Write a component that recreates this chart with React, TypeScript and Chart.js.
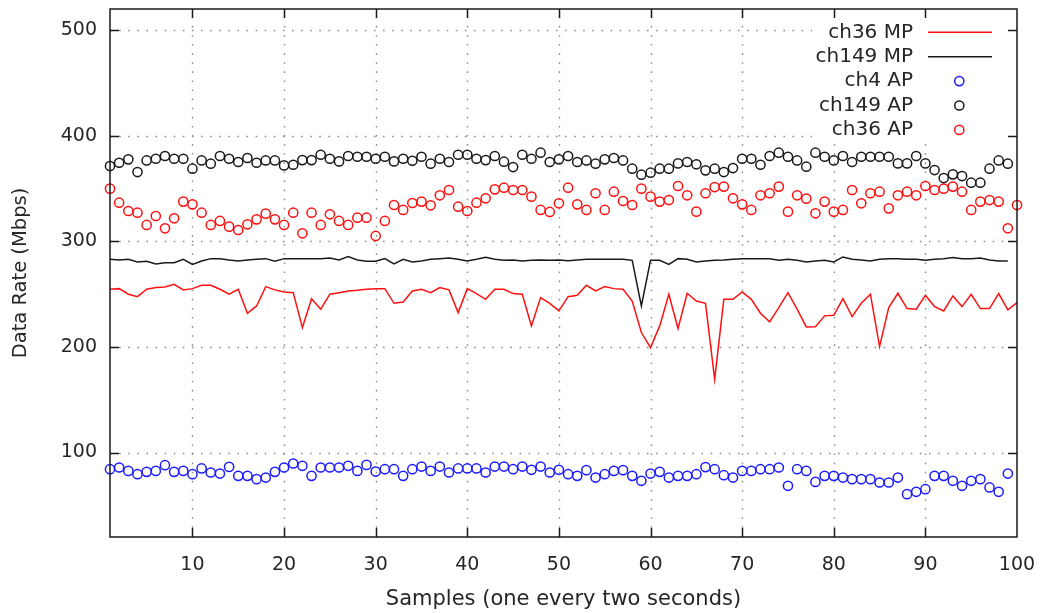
import React, { useEffect, useRef } from 'react';
import { Chart, registerables } from 'chart.js';

Chart.register(...registerables);

// ---- data (sample index starts at 1) ----
const X_TICKS = [10, 20, 30, 40, 50, 60, 70, 80, 90, 100];
const Y_TICKS = [100, 200, 300, 400, 500];

const ch36MP = [
  254.6, 255.2, 249.9, 247.6, 254.6, 256.2, 256.8, 259.3, 254.0, 255.2,
  258.4, 258.4, 254.6, 249.9, 254.6, 231.9, 238.8, 257.1, 254.0, 252.1,
  251.4, 218.3, 245.7, 235.7, 249.9, 251.4, 253.0, 253.6, 254.6, 255.2,
  255.2, 241.3, 242.6, 253.0, 254.6, 251.4, 256.2, 254.0, 232.5, 255.2,
  250.5, 245.1, 254.6, 254.6, 250.5, 249.9, 219.9, 246.7, 241.3, 234.1,
  247.6, 248.9, 258.4, 253.0, 257.1, 255.2, 254.6, 243.5, 213.6, 199.4,
  219.9, 249.9, 217.4, 250.8, 243.5, 241.3, 169.4, 245.1, 245.1, 252.1,
  245.1, 231.9, 223.7, 237.2, 251.4, 235.7, 218.9, 219.2, 229.4, 230.0,
  245.7, 228.7, 241.3, 249.9, 200.3, 237.2, 250.8, 236.3, 235.7, 248.9,
  238.2, 234.1, 248.3, 238.2, 249.9, 236.3, 236.3, 250.5, 235.0, 241.9,
];

const ch149MP = [
  283.0, 282.4, 283.0, 280.5, 281.1, 278.6, 279.8, 279.8, 283.0, 278.2,
  281.4, 283.6, 283.6, 282.4, 281.4, 282.4, 283.0, 283.6, 281.1, 283.6,
  283.6, 283.6, 283.6, 283.6, 284.2, 282.4, 285.5, 282.4, 281.1, 281.1,
  283.6, 278.6, 283.0, 280.5, 281.4, 283.0, 283.6, 284.2, 283.0, 281.4,
  283.0, 284.9, 283.0, 282.0, 282.4, 281.4, 282.0, 282.4, 282.0, 282.4,
  281.7, 282.4, 283.0, 283.0, 283.0, 283.0, 283.0, 282.0, 238.8, 282.0,
  282.0, 278.2, 283.6, 283.0, 280.5, 281.4, 282.0, 282.4, 283.0, 283.6,
  283.6, 283.6, 283.6, 282.0, 283.0, 282.0, 280.5, 281.4, 282.0, 280.5,
  285.2, 283.0, 282.4, 281.4, 283.0, 283.6, 283.6, 283.0, 283.0, 282.0,
  283.0, 283.6, 284.6, 283.6, 283.6, 284.2, 282.4, 281.4, 281.4,
];

const ch4AP = [
  84.2, 85.8, 82.6, 79.5, 81.7, 82.6, 88.0, 81.7, 82.6, 79.5,
  84.9, 81.1, 80.1, 86.4, 77.9, 77.9, 74.8, 76.3, 81.7, 85.8,
  89.6, 87.4, 77.9, 85.8, 85.8, 85.8, 87.4, 82.6, 88.3, 82.0,
  84.2, 84.2, 77.9, 84.2, 86.7, 82.6, 86.7, 81.1, 84.9, 84.9,
  84.9, 81.1, 86.7, 86.7, 84.2, 86.7, 83.6, 86.7, 81.1, 83.6,
  79.5, 77.9, 83.3, 76.3, 79.5, 82.6, 83.3, 77.9, 73.2, 80.1,
  81.7, 76.3, 77.9, 77.9, 79.5, 86.2, 84.2, 78.5, 76.3, 82.6,
  82.6, 84.2, 84.2, 85.8, 68.5, 84.2, 82.6, 72.2, 77.9, 77.9,
  76.3, 74.8, 74.8, 74.8, 71.6, 71.6, 76.3, 60.6, 62.8, 65.3,
  77.9, 77.9, 73.2, 68.5, 73.2, 74.8, 66.9, 62.8, 80.1,
];

const ch149AP = [
  371.3, 374.4, 377.6, 365.6, 376.6, 378.2, 380.8, 378.2, 378.2, 368.8,
  376.6, 373.5, 380.8, 378.2, 375.1, 378.9, 374.4, 376.6, 376.6, 371.9,
  372.5, 376.9, 376.9, 382.0, 378.2, 375.7, 380.8, 380.1, 380.1, 378.2,
  380.1, 375.7, 378.2, 376.3, 380.1, 373.5, 378.2, 375.1, 382.0, 382.0,
  378.2, 376.9, 380.8, 375.4, 370.3, 382.0, 378.2, 383.9, 375.1, 377.6,
  380.8, 375.1, 376.6, 373.5, 377.6, 378.9, 376.6, 368.8, 363.1, 365.0,
  368.8, 368.8, 373.8, 375.1, 372.9, 367.2, 368.8, 365.6, 369.4, 378.2,
  378.2, 372.5, 380.8, 383.9, 380.1, 376.6, 370.7, 383.9, 380.1, 376.6,
  380.8, 375.1, 380.1, 380.1, 380.1, 380.1, 373.8, 373.8, 380.8, 373.8,
  367.5, 359.9, 363.4, 361.8, 355.5, 355.5, 368.8, 376.6, 373.5,
];

const ch36AP = [
  349.9, 336.6, 328.7, 327.1, 315.5, 324.0, 312.3, 321.8, 337.6, 335.0,
  327.1, 315.5, 319.3, 313.9, 310.7, 316.1, 320.8, 326.2, 320.8, 315.5,
  327.1, 307.6, 327.1, 315.5, 325.6, 319.3, 315.5, 322.4, 322.4, 305.1,
  319.3, 334.4, 329.7, 336.3, 337.6, 334.1, 343.6, 348.6, 332.8, 328.7,
  336.6, 340.7, 349.2, 350.8, 348.6, 348.6, 342.3, 329.7, 327.8, 336.0,
  350.8, 335.0, 329.7, 345.5, 329.7, 347.0, 338.2, 334.4, 349.9, 342.3,
  337.6, 339.1, 352.4, 343.6, 328.1, 345.5, 351.4, 351.8, 340.7, 335.0,
  329.7, 343.6, 345.5, 351.8, 328.1, 343.6, 340.4, 326.5, 337.6, 328.1,
  329.7, 348.6, 336.0, 345.5, 347.0, 331.2, 343.6, 347.0, 343.6, 352.4,
  348.6, 349.9, 351.8, 347.0, 329.7, 337.6, 339.1, 337.6, 312.3, 334.4,
];

const SERIES_LABELS = ['ch36 MP', 'ch149 MP', 'ch4 AP', 'ch149 AP', 'ch36 AP'];

const RED = '#ff1010';
const BLACK = '#1a1a1a';
const BLUE = '#1c1cff';
const TEXT = '#262626';
const FONT = 'DejaVu Sans';

const toXY = (arr: number[]) => arr.map((v, i) => ({ x: i + 1, y: v }));

const drawGrid = (chart: any) => {
  const { ctx, chartArea: a, scales } = chart;
  const xs = scales.x;
  const ys = scales.y;
  if (!a || !xs || !ys) return;
  ctx.save();
  ctx.strokeStyle = '#8c8c8c';
  ctx.lineWidth = 1.4;
  ctx.setLineDash([1.6, 7.5]);
  for (const v of X_TICKS) {
    if (v >= 100) continue;
    const px = Math.round(xs.getPixelForValue(v)) + 0.5;
    ctx.beginPath();
    ctx.moveTo(px, a.bottom);
    ctx.lineTo(px, a.top);
    ctx.stroke();
  }
  for (const v of Y_TICKS) {
    const py = Math.round(ys.getPixelForValue(v)) + 0.5;
    ctx.beginPath();
    ctx.moveTo(a.left, py);
    ctx.lineTo(a.right, py);
    ctx.stroke();
  }
  ctx.setLineDash([]);
  // opaque key area
  ctx.fillStyle = '#ffffff';
  ctx.fillRect(a.right - 205, a.top, 205, 134);
  ctx.restore();
};

const gnuplotFrame = {
  id: 'gnuplotFrame',
  beforeDatasetsDraw(chart: any) {
    drawGrid(chart);
  },
  afterDatasetsDraw(chart: any) {
    const { ctx, chartArea: a, scales } = chart;
    const xs = scales.x;
    const ys = scales.y;
    ctx.save();
    ctx.strokeStyle = BLACK;
    ctx.lineWidth = 1.5;
    ctx.strokeRect(a.left, a.top, a.right - a.left, a.bottom - a.top);
    const tl = 9;
    ctx.beginPath();
    for (const v of X_TICKS) {
      if (v >= 100) continue;
      const px = Math.round(xs.getPixelForValue(v)) + 0.5;
      ctx.moveTo(px, a.bottom);
      ctx.lineTo(px, a.bottom - tl);
      ctx.moveTo(px, a.top);
      ctx.lineTo(px, a.top + tl);
    }
    for (const v of Y_TICKS) {
      const py = Math.round(ys.getPixelForValue(v)) + 0.5;
      ctx.moveTo(a.left, py);
      ctx.lineTo(a.left + tl, py);
      ctx.moveTo(a.right, py);
      ctx.lineTo(a.right - tl, py);
    }
    ctx.stroke();

    // key
    const styles = [
      { color: RED, line: true },
      { color: BLACK, line: true },
      { color: BLUE, line: false },
      { color: BLACK, line: false },
      { color: RED, line: false },
    ];
    ctx.font = `20px "${FONT}"`;
    ctx.textAlign = 'right';
    ctx.textBaseline = 'middle';
    SERIES_LABELS.forEach((label, i) => {
      const yy = a.top + 23.3 + i * 24.4;
      ctx.fillStyle = TEXT;
      ctx.fillText(label, a.right - 104, yy);
      const s = styles[i];
      ctx.strokeStyle = s.color;
      ctx.lineWidth = 1.5;
      ctx.beginPath();
      if (s.line) {
        ctx.moveTo(a.right - 89, yy);
        ctx.lineTo(a.right - 25, yy);
      } else {
        ctx.arc(a.right - 57.7, yy, 4.6, 0, Math.PI * 2);
      }
      ctx.stroke();
    });
    ctx.restore();
  },
};

const noPad = (s: any) => {
  s.paddingTop = 0;
  s.paddingBottom = 0;
  s.paddingLeft = 0;
  s.paddingRight = 0;
};

export default function App() {
  const ref = useRef<HTMLCanvasElement | null>(null);

  useEffect(() => {
    if (!ref.current) return;
    const pointDs = (label: string, data: number[], color: string) => ({
      label,
      data: toXY(data),
      showLine: false,
      borderColor: color,
      backgroundColor: 'rgba(0,0,0,0)',
      pointRadius: 4.6,
      pointBorderWidth: 1.5,
      pointBorderColor: color,
      pointBackgroundColor: 'rgba(0,0,0,0)',
      clip: false as any,
    });
    const lineDs = (label: string, data: number[], color: string) => ({
      label,
      data: toXY(data),
      borderColor: color,
      backgroundColor: color,
      borderWidth: 1.5,
      pointRadius: 0,
      tension: 0,
      fill: false,
      clip: false as any,
    });
    const chart = new Chart(ref.current, {
      type: 'line',
      data: {
        datasets: [
          lineDs(SERIES_LABELS[0], ch36MP, RED),
          lineDs(SERIES_LABELS[1], ch149MP, BLACK),
          pointDs(SERIES_LABELS[2], ch4AP, BLUE),
          pointDs(SERIES_LABELS[3], ch149AP, BLACK),
          pointDs(SERIES_LABELS[4], ch36AP, RED),
        ] as any,
      },
      options: {
        responsive: false,
        animation: false,
        events: [],
        layout: { padding: { left: 0, right: 26, top: 9, bottom: 0 } },
        plugins: {
          legend: { display: false },
          tooltip: { enabled: false },
        },
        scales: {
          x: {
            type: 'linear',
            min: 1,
            max: 100,
            afterBuildTicks: (s: any) => {
              s.ticks = X_TICKS.map((v) => ({ value: v }));
            },
            afterFit: (s: any) => {
              s.height = 76;
              noPad(s);
            },
            grid: { display: false, drawTicks: false },
            border: { display: false },
            ticks: {
              autoSkip: false,
              maxRotation: 0,
              padding: 17,
              color: TEXT,
              font: { family: FONT, size: 19 },
            },
            title: {
              display: true,
              text: 'Samples (one every two seconds)',
              color: TEXT,
              font: { family: FONT, size: 21 },
              padding: { top: 0, bottom: 1 },
            },
          },
          y: {
            type: 'linear',
            min: 20,
            max: 520,
            afterBuildTicks: (s: any) => {
              s.ticks = Y_TICKS.map((v) => ({ value: v }));
            },
            afterFit: (s: any) => {
              s.width = 110;
              noPad(s);
            },
            grid: { display: false, drawTicks: false },
            border: { display: false },
            ticks: {
              autoSkip: false,
              padding: 13,
              color: TEXT,
              font: { family: FONT, size: 19 },
            },
            title: {
              display: true,
              text: 'Data Rate (Mbps)',
              color: TEXT,
              font: { family: FONT, size: 19.5 },
              padding: { top: 9.5, bottom: 0 },
            },
          },
        },
      } as any,
      plugins: [gnuplotFrame],
    });
    return () => chart.destroy();
  }, []);

  return (
    <div style={{ position: 'absolute', left: 0, top: 0, width: 1043, height: 613, background: '#fff' }}>
      <canvas ref={ref} width={1043} height={613} style={{ display: 'block' }} />
    </div>
  );
}
